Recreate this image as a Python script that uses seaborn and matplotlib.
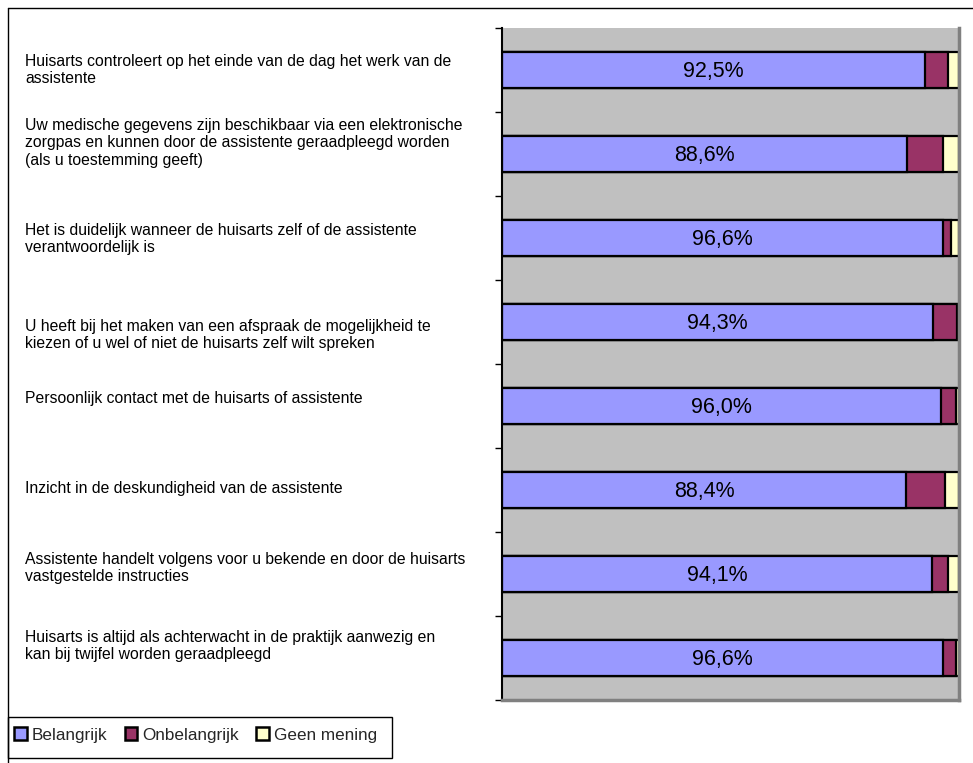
import matplotlib
matplotlib.use("Agg")
import matplotlib.pyplot as plt
import matplotlib.transforms as mtransforms
from matplotlib.patches import Patch, Rectangle
from matplotlib.lines import Line2D
import numpy as np
import pandas as pd
import seaborn as sns

# --- data -------------------------------------------------------------
statements = [
    "Huisarts controleert op het einde van de dag het werk van de\nassistente",
    "Uw medische gegevens zijn beschikbaar via een elektronische\nzorgpas en kunnen door de assistente geraadpleegd worden\n(als u toestemming geeft)",
    "Het is duidelijk wanneer de huisarts zelf of de assistente\nverantwoordelijk is",
    "U heeft bij het maken van een afspraak de mogelijkheid te\nkiezen of u wel of niet de huisarts zelf wilt spreken",
    "Persoonlijk contact met de huisarts of assistente",
    "Inzicht in de deskundigheid van de assistente",
    "Assistente handelt volgens voor u bekende en door de huisarts\nvastgestelde instructies",
    "Huisarts is altijd als achterwacht in de praktijk aanwezig en\nkan bij twijfel worden geraadpleegd",
]
belangrijk = [92.5, 88.6, 96.6, 94.3, 96.0, 88.4, 94.1, 96.6]
onbelangrijk = [5.1, 8.0, 1.7, 5.2, 3.3, 8.6, 3.4, 2.7]
geen_mening = [2.4, 3.4, 1.7, 0.5, 0.7, 3.0, 2.5, 0.7]
series_names = ["Belangrijk", "Onbelangrijk", "Geen mening"]

# --- styling ----------------------------------------------------------
colors = ["#9999FF", "#993366", "#FFFFCC"]
label_dy_px = [0, -11, 1, 13, -8, -2, -6, -12]   # vertical nudge of each text block

sns.set_theme(style="white")
plt.rcParams["font.family"] = ["Liberation Sans", "DejaVu Sans"]

W, H = 973, 763
fig = plt.figure(figsize=(W / 100, H / 100), dpi=100)
ax = fig.add_axes([502 / W, 1 - 700 / H, (959 - 502) / W, (700 - 28) / H])
ax.set_facecolor("#C0C0C0")

df = pd.DataFrame({
    "stelling": statements,
    "Belangrijk": belangrijk,
    "Onbelangrijk": onbelangrijk,
    "Geen mening": geen_mening,
})
stack = df[series_names].cumsum(axis=1)

# draw cumulative totals back to front so each segment shows as a stacked piece
for name, col in zip(series_names[::-1], colors[::-1]):
    sns.barplot(data=stack.assign(stelling=df["stelling"]), x=name, y="stelling",
                orient="y", color=col, width=0.42, saturation=1,
                edgecolor="black", linewidth=1.6, ax=ax)

ax.set_xlim(0, 100)
ax.set_ylim(len(statements) - 0.5, -0.5)
ax.set_xlabel("")
ax.set_ylabel("")
ax.set_xticks([])
ax.set_yticks(np.arange(len(statements) + 1) - 0.5)
ax.set_yticklabels([])
ax.tick_params(axis="y", which="both", left=True, length=5, width=1,
               color="black", direction="out")

ax.spines["top"].set_visible(False)
ax.spines["left"].set_color("black")
ax.spines["left"].set_linewidth(1.5)
ax.spines["right"].set_color("#808080")
ax.spines["right"].set_linewidth(2.5)
ax.spines["bottom"].set_color("#808080")
ax.spines["bottom"].set_linewidth(2.5)

# percentage of "Belangrijk" centred in its segment
for i, v in enumerate(belangrijk):
    ax.text(v / 2, i + 0.02, f"{v:.1f}%".replace(".", ","), ha="center", va="center",
            fontsize=15.5, color="black")

# statement texts at the left of the figure
for i, (txt, dy) in enumerate(zip(statements, label_dy_px)):
    trans = mtransforms.blended_transform_factory(fig.transFigure, ax.transData)
    trans = trans + mtransforms.ScaledTranslation(0, -dy / 100, fig.dpi_scale_trans)
    fig.text(25 / W, i, txt, transform=trans, ha="left", va="center",
             fontsize=11.3, linespacing=1.2, color="black")

# outer frame (left and top edges)
fig.add_artist(Line2D([8 / W, 8 / W], [0, 1 - 8 / H], transform=fig.transFigure,
                      color="black", linewidth=1))
fig.add_artist(Line2D([8 / W, 1], [1 - 8 / H, 1 - 8 / H], transform=fig.transFigure,
                      color="black", linewidth=1))

# legend box
fig.add_artist(Rectangle((8 / W, 1 - 758 / H), 384 / W, 41 / H,
                         transform=fig.transFigure, facecolor="white",
                         edgecolor="black", linewidth=1))
handles = [Patch(facecolor=c, edgecolor="black", linewidth=1.8) for c in colors]
leg = fig.legend(handles, series_names, loc="center left",
                 bbox_to_anchor=(14 / W, 1 - 735 / H),
                 ncol=3, frameon=False, fontsize=12.3, handlelength=0.75,
                 handleheight=0.8, handletextpad=0.3, columnspacing=1.0,
                 borderpad=0, borderaxespad=0)

fig.savefig("out.png", dpi=100)
